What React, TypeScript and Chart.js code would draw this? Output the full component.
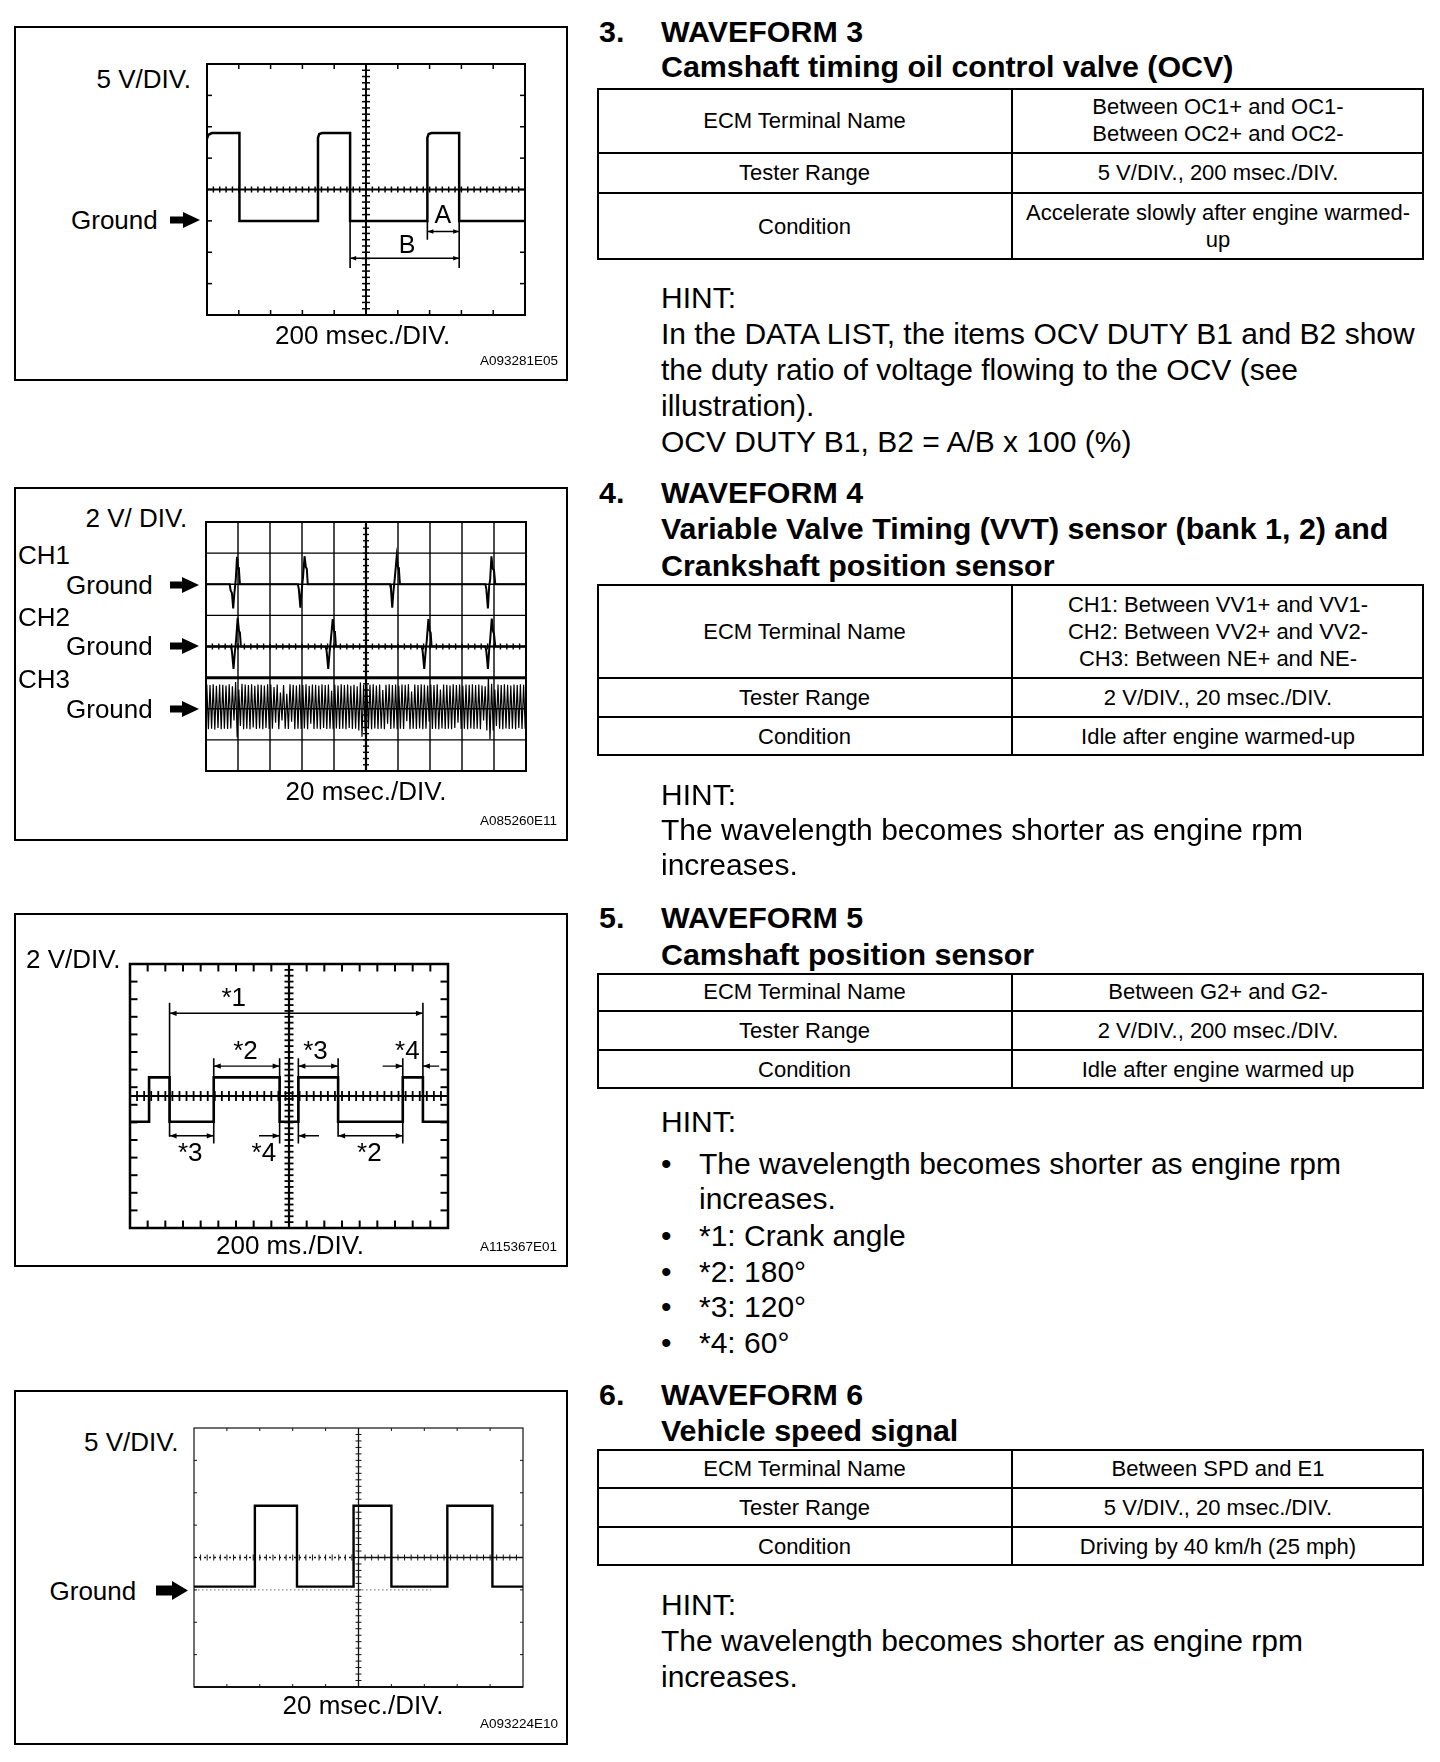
import React, { useEffect, useRef } from "react";
import { Chart, registerables } from "chart.js";

Chart.register(...registerables);

const FONT = '"Liberation Sans", Arial, Helvetica, sans-serif';

/* ---------- WAVEFORM 3 : OCV  (x: 0-10 div, y: 0-8 div) ---------- */
const ocvTime = [0, 0.04, 0.15, 1.02, 1.02, 3.49, 3.49, 3.53, 3.62, 4.5, 4.5, 6.93, 6.93, 6.97, 7.06, 7.93, 7.93, 10];
const ocvVolt = [5.62, 5.74, 5.8, 5.8, 3, 3, 5.65, 5.77, 5.8, 5.8, 3, 3, 5.65, 5.77, 5.8, 5.8, 3, 3];
const ocvExtX = [4.5, 7.93, 6.93];
const ocvExtTop = [3, 3, 3];
const ocvExtBottom = [1.5, 1.5, 2.4];
const ocvDimStart = [4.5, 6.93];
const ocvDimEnd = [7.93, 7.93];
const ocvDimLevel = [1.81, 2.66];
const ocvDimBoth = [true, true];
const ocvLabels = ["B", "A"];
const ocvLabelX = [6.29, 7.42];
const ocvLabelY = [2.25, 3.2];

/* ---------- WAVEFORM 4 : VVT / NE  (x: 0-10 div, y: 0-8 div) ---------- */
const vvt1Time = [0, 0.74, 0.77, 0.81, 0.85, 0.89, 0.93, 0.97, 1.0, 1.03, 1.06, 2.87, 2.9, 2.95, 2.99, 3.03, 3.08, 3.12, 3.15, 3.18, 5.75, 5.78, 5.82, 5.86, 5.9, 5.96, 6.0, 6.03, 6.06, 8.73, 8.76, 8.81, 8.85, 8.88, 8.92, 8.96, 9.0, 9.04, 10];
const vvt1Volt = [6, 6, 5.8, 5.72, 5.22, 5.75, 6.15, 6.88, 6.55, 6.45, 6, 6, 5.85, 5.25, 5.8, 6.2, 6.9, 6.55, 6.5, 6, 6, 5.85, 5.25, 5.8, 6.2, 6.9, 6.55, 6.45, 6, 6, 5.85, 5.22, 5.95, 6.15, 6.9, 6.5, 6.45, 6, 6];
const vvt2Time = [0, 0.78, 0.81, 0.86, 0.9, 0.94, 0.99, 1.03, 1.06, 1.09, 3.74, 3.77, 3.82, 3.86, 3.9, 3.96, 4.0, 4.03, 4.06, 6.74, 6.77, 6.82, 6.86, 6.9, 6.95, 6.99, 7.02, 7.05, 8.73, 8.76, 8.81, 8.85, 8.88, 8.93, 8.97, 9.0, 9.04, 10];
const vvt2Volt = [4, 4, 3.85, 3.28, 3.8, 4.2, 4.92, 4.5, 4.45, 4, 4, 3.85, 3.28, 3.8, 4.2, 4.88, 4.5, 4.45, 4, 4, 3.85, 3.28, 3.8, 4.2, 4.88, 4.5, 4.45, 4, 4, 3.85, 3.28, 3.9, 4.2, 4.9, 4.5, 4.4, 4, 4];
// CH3 crank signal: one max / min pair per cycle, 10 cycles per division
const neHigh = [
  2.78, 2.76, 2.79, 2.74, 2.78, 2.77, 2.75, 2.79, 2.72, 2.86,
  2.62, 2.8, 2.78, 2.76, 2.79, 2.74, 2.78, 2.77, 2.75, 2.79,
  2.78, 2.7, 2.78, 2.52, 2.76, 2.48, 2.79, 2.77, 2.75, 2.78,
  2.76, 2.79, 2.74, 2.78, 2.77, 2.75, 2.79, 2.76, 2.78, 2.58,
  2.77, 2.75, 2.79, 2.76, 2.78, 2.74, 2.77, 2.72, 2.84, 2.76,
  2.78, 2.77, 2.79, 2.75, 2.78, 2.6, 2.77, 2.79, 2.76, 2.78,
  2.74, 2.78, 2.77, 2.79, 2.55, 2.78, 2.76, 2.79, 2.77, 2.75,
  2.78, 2.76, 2.79, 2.62, 2.78, 2.77, 2.75, 2.79, 2.76, 2.78,
  2.74, 2.78, 2.77, 2.79, 2.76, 2.78, 2.75, 2.72, 3.0, 2.8,
  2.62, 2.78, 2.76, 2.79, 2.77, 2.75, 2.78, 2.76, 2.79, 2.77,
];
const neLow = [
  1.34, 1.36, 1.33, 1.38, 1.34, 1.36, 1.35, 1.37, 1.62, 1.08,
  1.45, 1.34, 1.36, 1.34, 1.4, 1.35, 1.37, 1.34, 1.38, 1.35,
  1.36, 1.55, 1.34, 1.62, 1.36, 1.35, 1.58, 1.34, 1.36, 1.35,
  1.37, 1.34, 1.52, 1.35, 1.36, 1.34, 1.38, 1.35, 1.36, 1.34,
  1.37, 1.35, 1.36, 1.34, 1.38, 1.35, 1.36, 1.3, 1.1, 1.28,
  1.36, 1.34, 1.37, 1.35, 1.36, 1.34, 1.52, 1.35, 1.37, 1.34,
  1.36, 1.35, 1.6, 1.34, 1.36, 1.35, 1.37, 1.34, 1.36, 1.58,
  1.35, 1.36, 1.34, 1.37, 1.35, 1.36, 1.34, 1.38, 1.55, 1.35,
  1.36, 1.34, 1.37, 1.35, 1.36, 1.34, 1.62, 1.3, 1.02, 1.3,
  1.45, 1.36, 1.34, 1.37, 1.35, 1.36, 1.34, 1.38, 1.35, 1.36,
];
const neCyclesPerDiv = 10;

/* ---------- WAVEFORM 5 : camshaft position (x: 0-18, y: 0-15) ---------- */
const camTime = [0, 1.08, 1.08, 2.24, 2.24, 4.74, 4.74, 8.47, 8.47, 9.53, 9.53, 11.78, 11.78, 15.44, 15.44, 16.58, 16.58, 18];
const camVolt = [6.04, 6.04, 8.56, 8.56, 6.04, 6.04, 8.56, 8.56, 6.04, 6.04, 8.56, 8.56, 6.04, 6.04, 8.56, 8.56, 6.04, 6.04];
const camExtX = [2.24, 16.58, 4.74, 8.47, 9.53, 11.78, 15.44];
const camExtTop = [12.8, 12.8, 9.65, 9.65, 9.65, 9.65, 9.65];
const camExtBottom = [5.18, 6.04, 4.8, 4.8, 4.8, 5.18, 4.8];
const camDimStart = [2.24, 4.74, 9.53, 14.3, 17.5, 2.24, 7.3, 10.7, 11.78];
const camDimEnd = [16.58, 8.47, 11.78, 15.44, 16.58, 4.74, 8.47, 9.53, 15.44];
const camDimLevel = [12.2, 9.2, 9.2, 9.2, 9.2, 5.24, 5.24, 5.24, 5.24];
const camDimBoth = [true, true, true, false, false, true, false, false, true];
const camLabels = ["*1", "*2", "*3", "*4", "*3", "*4", "*2"];
const camLabelX = [5.87, 6.54, 10.5, 15.7, 3.41, 7.58, 13.55];
const camLabelY = [13.13, 10.1, 10.1, 10.1, 4.33, 4.33, 4.33];

/* ---------- WAVEFORM 6 : vehicle speed (x: 0-10 div, y: 0-8 div) ---------- */
const spdTime = [0, 1.85, 1.85, 3.13, 3.13, 4.85, 4.85, 6.0, 6.0, 7.7, 7.7, 9.07, 9.07, 10];
const spdVolt = [3.1, 3.1, 5.6, 5.6, 3.1, 3.1, 5.6, 5.6, 3.1, 3.1, 5.6, 5.6, 3.1, 3.1];

/* ---------- table texts ---------- */
const rowNames = ["ECM Terminal Name", "Tester Range", "Condition"];
const tbl3Values = [["Between OC1+ and OC1-", "Between OC2+ and OC2-"], ["5 V/DIV., 200 msec./DIV."], ["Accelerate slowly after engine warmed-", "up"]];
const tbl4Values = [["CH1: Between VV1+ and VV1-", "CH2: Between VV2+ and VV2-", "CH3: Between NE+ and NE-"], ["2 V/DIV., 20 msec./DIV."], ["Idle after engine warmed-up"]];
const tbl5Values = [["Between G2+ and G2-"], ["2 V/DIV., 200 msec./DIV."], ["Idle after engine warmed up"]];
const tbl6Values = [["Between SPD and E1"], ["5 V/DIV., 20 msec./DIV."], ["Driving by 40 km/h (25 mph)"]];

/* ---------- helpers ---------- */
type Rect = { x: number; y: number; w: number; h: number };
type Line = { pts: { x: number; y: number | null }[]; width: number; color?: string };
type Dims = { start: number[]; end: number[]; level: number[]; both: boolean[]; len: number; half: number };
type Grat = {
  nx: number; ny: number; border: number; borderBottom?: number; color?: string;
  grid: number; edgeTick: number; edgeTickW: number;
  cx: number; cy: number; centerW: number; dashLeft?: boolean;
  hMinor: number; hMinorLen: number; vMinor: number; vMinorLen: number; minorW: number;
  hLines?: { y: number; w: number; x0?: number; x1?: number; dash?: number[]; color?: string }[];
};

function trace(xs: number[], ys: number[], width: number): Line {
  return { pts: xs.map((x, i) => ({ x, y: ys[i] })), width };
}
function verticals(xs: number[], top: number[], bottom: number[], width: number): Line {
  const pts: { x: number; y: number | null }[] = [];
  xs.forEach((x, i) => { pts.push({ x, y: top[i] }, { x, y: bottom[i] }, { x, y: null }); });
  return { pts, width };
}
function dimLine(d: Dims, width: number): Line {
  const pts: { x: number; y: number | null }[] = [];
  d.start.forEach((s, i) => { pts.push({ x: s, y: d.level[i] }, { x: d.end[i], y: d.level[i] }, { x: d.end[i], y: null }); });
  return { pts, width };
}

const M = 12;

function Scope({ rect, grat, lines, dims }: { rect: Rect; grat: Grat; lines: Line[]; dims?: Dims }) {
  const ref = useRef<HTMLCanvasElement>(null);
  useEffect(() => {
    const canvas = ref.current;
    if (!canvas) return;
    const gratPlugin = {
      id: "graticule",
      beforeDatasetsDraw(chart: any) {
        const ctx = chart.ctx;
        const px = (v: number) => chart.scales.x.getPixelForValue(v);
        const py = (v: number) => chart.scales.y.getPixelForValue(v);
        const g = grat;
        ctx.save();
        ctx.strokeStyle = g.color || "#000";
        ctx.lineCap = "butt";
        const L = (x1: number, y1: number, x2: number, y2: number, w: number, dash?: number[]) => {
          ctx.lineWidth = w;
          ctx.setLineDash(dash || []);
          ctx.beginPath();
          ctx.moveTo(x1, y1);
          ctx.lineTo(x2, y2);
          ctx.stroke();
        };
        const left = px(0), right = px(g.nx), top = py(g.ny), bottom = py(0);
        if (g.grid) {
          for (let i = 1; i < g.nx; i++) L(px(i), top, px(i), bottom, g.grid);
          for (let j = 1; j < g.ny; j++) L(left, py(j), right, py(j), g.grid);
        }
        if (g.edgeTick) {
          for (let i = 1; i < g.nx; i++) {
            L(px(i), top, px(i), top + g.edgeTick, g.edgeTickW);
            L(px(i), bottom, px(i), bottom - g.edgeTick, g.edgeTickW);
          }
          for (let j = 1; j < g.ny; j++) {
            L(left, py(j), left + g.edgeTick, py(j), g.edgeTickW);
            L(right, py(j), right - g.edgeTick, py(j), g.edgeTickW);
          }
        }
        (g.hLines || []).forEach((h) => {
          ctx.strokeStyle = h.color || g.color || "#000";
          L(px(h.x0 ?? 0), py(h.y), px(h.x1 ?? g.nx), py(h.y), h.w, h.dash);
          ctx.strokeStyle = g.color || "#000";
        });
        const cxp = px(g.cx), cyp = py(g.cy);
        if (g.dashLeft) {
          L(left, cyp, cxp, cyp, g.centerW, [2, 3]);
          L(cxp, cyp, right, cyp, g.centerW);
        } else {
          L(left, cyp, right, cyp, g.centerW);
        }
        L(cxp, top, cxp, bottom, g.centerW);
        const nh = Math.round(g.nx / g.hMinor);
        for (let k = 1; k < nh; k++) {
          const x = px((k * g.nx) / nh);
          L(x, cyp - g.hMinorLen, x, cyp + g.hMinorLen, g.minorW);
        }
        const nv = Math.round(g.ny / g.vMinor);
        for (let k = 1; k < nv; k++) {
          const y = py((k * g.ny) / nv);
          L(cxp - g.vMinorLen, y, cxp + g.vMinorLen, y, g.minorW);
        }
        ctx.setLineDash([]);
        ctx.lineWidth = g.border;
        ctx.strokeRect(left, top, right - left, bottom - top);
        if (g.borderBottom) L(left, bottom, right, bottom, g.borderBottom);
        ctx.restore();
      },
    };
    const headPlugin = {
      id: "dimHeads",
      afterDatasetsDraw(chart: any) {
        if (!dims) return;
        const ctx = chart.ctx;
        const px = (v: number) => chart.scales.x.getPixelForValue(v);
        const py = (v: number) => chart.scales.y.getPixelForValue(v);
        ctx.save();
        ctx.fillStyle = "#000";
        dims.start.forEach((s, i) => {
          const e = dims.end[i];
          const y = py(dims.level[i]);
          const heads: [number, number][] = dims.both[i]
            ? [[s, Math.sign(s - e)], [e, Math.sign(e - s)]]
            : [[e, Math.sign(e - s)]];
          heads.forEach(([x, d]) => {
            const X = px(x);
            ctx.beginPath();
            ctx.moveTo(X, y);
            ctx.lineTo(X - d * dims.len, y - dims.half);
            ctx.lineTo(X - d * dims.len, y + dims.half);
            ctx.closePath();
            ctx.fill();
          });
        });
        ctx.restore();
      },
    };
    const chart = new Chart(canvas, {
      type: "line",
      data: {
        datasets: lines.map((l) => ({
          data: l.pts,
          borderColor: l.color || "#000",
          borderWidth: l.width,
          pointRadius: 0,
          pointHoverRadius: 0,
          fill: false,
          tension: 0,
          spanGaps: false,
          clip: false,
          borderJoinStyle: "miter",
          borderCapStyle: "butt",
        })) as any,
      },
      options: {
        animation: false,
        responsive: false,
        maintainAspectRatio: false,
        devicePixelRatio: 1,
        events: [],
        layout: { padding: M },
        scales: {
          x: { type: "linear", min: 0, max: grat.nx, display: false },
          y: { type: "linear", min: 0, max: grat.ny, display: false },
        },
        plugins: { legend: { display: false }, tooltip: { enabled: false }, title: { display: false } },
      } as any,
      plugins: [gratPlugin, headPlugin] as any,
    });
    return () => chart.destroy();
  }, []);
  const W = rect.w + 2 * M, H = rect.h + 2 * M;
  return (
    <canvas
      ref={ref}
      width={W}
      height={H}
      style={{ position: "absolute", left: rect.x - M, top: rect.y - M, width: W, height: H }}
    />
  );
}

function Txt({ x, cy, size, lh, bold, center, children }: any) {
  return (
    <div
      style={{
        position: "absolute",
        left: x,
        top: cy - lh / 2,
        fontSize: size,
        lineHeight: lh + "px",
        fontWeight: bold ? 700 : 400,
        whiteSpace: "nowrap",
        transform: center ? "translateX(-50%)" : undefined,
      }}
    >
      {children}
    </div>
  );
}

function Arrow({ x, cy, w, hs, hh, sh }: { x: number; cy: number; w: number; hs: number; hh: number; sh: number }) {
  const a = (hh - sh) / 2, b = (hh + sh) / 2;
  return (
    <svg style={{ position: "absolute", left: x, top: cy - hh / 2 }} width={w} height={hh}>
      <polygon points={`0,${a} ${hs},${a} ${hs},0 ${w},${hh / 2} ${hs},${hh} ${hs},${b} 0,${b}`} fill="#000" />
    </svg>
  );
}

function Box({ x, y, w, h }: Rect) {
  return <div style={{ position: "absolute", left: x, top: y, width: w, height: h, border: "2px solid #000", boxSizing: "border-box" }} />;
}

function DataLabels({ rect, nx, ny, texts, xs, ys, size }: any) {
  return (
    <>
      {texts.map((t: string, i: number) => (
        <Txt key={i} x={rect.x + (xs[i] / nx) * rect.w} cy={rect.y + rect.h - (ys[i] / ny) * rect.h} size={size} lh={size} center>
          {t}
        </Txt>
      ))}
    </>
  );
}

function Cell({ x, w, y, h, lines }: { x: number; w: number; y: number; h: number; lines: string[] }) {
  return (
    <div
      style={{
        position: "absolute", left: x, top: y, width: w, height: h,
        display: "flex", flexDirection: "column", justifyContent: "center", alignItems: "center",
        fontSize: 22, lineHeight: "27px", textAlign: "center",
      }}
    >
      {lines.map((t, i) => (
        <div key={i} style={{ whiteSpace: "nowrap" }}>{t}</div>
      ))}
    </div>
  );
}

function Table({ b, values }: { b: number[]; values: string[][] }) {
  const X0 = 597, X1 = 1012, X2 = 1424;
  return (
    <>
      <div style={{ position: "absolute", left: X0, top: b[0], width: X2 - X0, height: b[3] - b[0], border: "2px solid #000", boxSizing: "border-box" }} />
      <div style={{ position: "absolute", left: X1 - 1, top: b[0], width: 2, height: b[3] - b[0], background: "#000" }} />
      {[1, 2].map((k) => (
        <div key={k} style={{ position: "absolute", left: X0, top: b[k] - 1, width: X2 - X0, height: 2, background: "#000" }} />
      ))}
      {[0, 1, 2].map((r) => (
        <React.Fragment key={r}>
          <Cell x={X0} w={X1 - X0} y={b[r]} h={b[r + 1] - b[r]} lines={[rowNames[r]]} />
          <Cell x={X1} w={X2 - X1} y={b[r]} h={b[r + 1] - b[r]} lines={values[r]} />
        </React.Fragment>
      ))}
    </>
  );
}

/* ---------- plot rectangles (page px) ---------- */
const P1: Rect = { x: 207, y: 64, w: 318, h: 251 };
const P2: Rect = { x: 206, y: 522, w: 320, h: 249 };
const P3: Rect = { x: 130, y: 964, w: 318, h: 264 };
const P4: Rect = { x: 194, y: 1428, w: 329, h: 259 };

export default function App() {
  const neTrace: Line = {
    pts: neHigh.flatMap((h, i) => [
      { x: (i + 0.25) / neCyclesPerDiv, y: h },
      { x: (i + 0.75) / neCyclesPerDiv, y: neLow[i] },
    ]),
    width: 1.2,
  };
  const ocvDims: Dims = { start: ocvDimStart, end: ocvDimEnd, level: ocvDimLevel, both: ocvDimBoth, len: 6, half: 2.2 };
  const camDims: Dims = { start: camDimStart, end: camDimEnd, level: camDimLevel, both: camDimBoth, len: 7, half: 2.6 };

  const S = 26; // panel label size
  const B = 30; // body size
  const BB = 30.4; // bold heading size
  const H = 36; // body line height
  const C = 13.5; // figure code size

  return (
    <div style={{ position: "absolute", left: 0, top: 0, width: 1440, height: 1762, background: "#fff", color: "#000", fontFamily: FONT, overflow: "hidden" }}>
      {/* ---------------- Panel 1 ---------------- */}
      <Box x={13.5} y={26} w={554} h={355} />
      <Scope
        rect={P1}
        grat={{ nx: 10, ny: 8, border: 2, grid: 0, edgeTick: 5, edgeTickW: 1.5, cx: 5, cy: 4, centerW: 2, hMinor: 0.2, hMinorLen: 3, vMinor: 0.2, vMinorLen: 4, minorW: 1.5 }}
        lines={[trace(ocvTime, ocvVolt, 2.5), verticals(ocvExtX, ocvExtTop, ocvExtBottom, 1.6), dimLine(ocvDims, 1.4)]}
        dims={ocvDims}
      />
      <DataLabels rect={P1} nx={10} ny={8} texts={ocvLabels} xs={ocvLabelX} ys={ocvLabelY} size={25} />
      <Txt x={96.5} cy={79} size={S} lh={S}>5 V/DIV.</Txt>
      <Txt x={71} cy={220} size={S} lh={S}>Ground</Txt>
      <Arrow x={170} cy={220} w={30} hs={13} hh={16} sh={7} />
      <Txt x={275} cy={335} size={S} lh={S}>200 msec./DIV.</Txt>
      <Txt x={480} cy={361} size={C} lh={16}>A093281E05</Txt>

      {/* ---------------- Panel 2 ---------------- */}
      <Box x={13.5} y={487} w={554} h={354} />
      <Scope
        rect={P2}
        grat={{ nx: 10, ny: 8, border: 2, grid: 1.4, edgeTick: 0, edgeTickW: 0, cx: 5, cy: 4, centerW: 2.2, hMinor: 0.2, hMinorLen: 3, vMinor: 0.2, vMinorLen: 3, minorW: 1.4, hLines: [{ y: 3, w: 3 }] }}
        lines={[trace(vvt1Time, vvt1Volt, 2), trace(vvt2Time, vvt2Volt, 2), neTrace]}
      />
      <Txt x={85.5} cy={517.5} size={S} lh={S}>2 V/ DIV.</Txt>
      <Txt x={18} cy={555} size={S} lh={S}>CH1</Txt>
      <Txt x={66} cy={584.5} size={S} lh={S}>Ground</Txt>
      <Arrow x={170} cy={584.5} w={29} hs={12} hh={16} sh={7} />
      <Txt x={18} cy={616.5} size={S} lh={S}>CH2</Txt>
      <Txt x={66} cy={646} size={S} lh={S}>Ground</Txt>
      <Arrow x={170} cy={646} w={29} hs={12} hh={16} sh={7} />
      <Txt x={18} cy={679} size={S} lh={S}>CH3</Txt>
      <Txt x={66} cy={708.5} size={S} lh={S}>Ground</Txt>
      <Arrow x={170} cy={708.5} w={29} hs={12} hh={16} sh={7} />
      <Txt x={285.5} cy={791} size={S} lh={S}>20 msec./DIV.</Txt>
      <Txt x={480} cy={821} size={C} lh={16}>A085260E11</Txt>

      {/* ---------------- Panel 3 ---------------- */}
      <Box x={13.5} y={912.5} w={554} h={354} />
      <Scope
        rect={P3}
        grat={{ nx: 18, ny: 15, border: 2.5, grid: 0, edgeTick: 7.5, edgeTickW: 2, cx: 9, cy: 7.5, centerW: 2.2, hMinor: 0.4, hMinorLen: 5, vMinor: 1 / 3, vMinorLen: 4.5, minorW: 1.8 }}
        lines={[trace(camTime, camVolt, 2.6), verticals(camExtX, camExtTop, camExtBottom, 1.6), dimLine(camDims, 1.4)]}
        dims={camDims}
      />
      <DataLabels rect={P3} nx={18} ny={15} texts={camLabels} xs={camLabelX} ys={camLabelY} size={S} />
      <Txt x={26} cy={958.5} size={S} lh={S}>2 V/DIV.</Txt>
      <Txt x={216} cy={1245} size={S} lh={S}>200 ms./DIV.</Txt>
      <Txt x={480} cy={1247} size={C} lh={16}>A115367E01</Txt>

      {/* ---------------- Panel 4 ---------------- */}
      <Box x={13.5} y={1389.5} w={554} h={355} />
      <Scope
        rect={P4}
        grat={{ nx: 10, ny: 8, border: 1.2, borderBottom: 2, color: "#111", grid: 0, edgeTick: 3, edgeTickW: 1, cx: 5, cy: 4, centerW: 1.3, dashLeft: true, hMinor: 0.2, hMinorLen: 3, vMinor: 0.2, vMinorLen: 3, minorW: 1, hLines: [{ y: 3.0, w: 1, x0: 0, x1: 7.2, dash: [1.5, 2.5], color: "#666" }] }}
        lines={[trace(spdTime, spdVolt, 2.4)]}
      />
      <Txt x={84} cy={1442} size={S} lh={S}>5 V/DIV.</Txt>
      <Txt x={49.5} cy={1590.5} size={S} lh={S}>Ground</Txt>
      <Arrow x={156} cy={1590} w={32} hs={16} hh={19} sh={10} />
      <Txt x={282.5} cy={1705} size={S} lh={S}>20 msec./DIV.</Txt>
      <Txt x={480} cy={1723.5} size={C} lh={16}>A093224E10</Txt>

      {/* ---------------- Section 3 ---------------- */}
      <Txt x={599} cy={31} size={BB} lh={H} bold>3.</Txt>
      <Txt x={661} cy={31} size={BB} lh={H} bold>WAVEFORM 3</Txt>
      <Txt x={661} cy={66} size={BB} lh={H} bold>Camshaft timing oil control valve (OCV)</Txt>
      <Table b={[87.5, 153, 192.5, 260]} values={tbl3Values} />
      <Txt x={661} cy={298} size={B} lh={H}>HINT:</Txt>
      <Txt x={661} cy={334} size={B} lh={H}>In the DATA LIST, the items OCV DUTY B1 and B2 show</Txt>
      <Txt x={661} cy={370} size={B} lh={H}>the duty ratio of voltage flowing to the OCV (see</Txt>
      <Txt x={661} cy={406} size={B} lh={H}>illustration).</Txt>
      <Txt x={661} cy={442} size={B} lh={H}>OCV DUTY B1, B2 = A/B x 100 (%)</Txt>

      {/* ---------------- Section 4 ---------------- */}
      <Txt x={599} cy={492} size={BB} lh={H} bold>4.</Txt>
      <Txt x={661} cy={492} size={BB} lh={H} bold>WAVEFORM 4</Txt>
      <Txt x={661} cy={528} size={BB} lh={H} bold>Variable Valve Timing (VVT) sensor (bank 1, 2) and</Txt>
      <Txt x={661} cy={564.5} size={BB} lh={H} bold>Crankshaft position sensor</Txt>
      <Table b={[584, 678, 716.5, 755.5]} values={tbl4Values} />
      <Txt x={661} cy={795} size={B} lh={H}>HINT:</Txt>
      <Txt x={661} cy={830} size={B} lh={H}>The wavelength becomes shorter as engine rpm</Txt>
      <Txt x={661} cy={865} size={B} lh={H}>increases.</Txt>

      {/* ---------------- Section 5 ---------------- */}
      <Txt x={599} cy={917} size={BB} lh={H} bold>5.</Txt>
      <Txt x={661} cy={917} size={BB} lh={H} bold>WAVEFORM 5</Txt>
      <Txt x={661} cy={953.5} size={BB} lh={H} bold>Camshaft position sensor</Txt>
      <Table b={[972.5, 1010.7, 1049.5, 1088.5]} values={tbl5Values} />
      <Txt x={661} cy={1122} size={B} lh={H}>HINT:</Txt>
      <Txt x={661} cy={1163.5} size={B} lh={H}>•</Txt>
      <Txt x={699} cy={1163.5} size={B} lh={H}>The wavelength becomes shorter as engine rpm</Txt>
      <Txt x={699} cy={1199} size={B} lh={H}>increases.</Txt>
      <Txt x={661} cy={1235.5} size={B} lh={H}>•</Txt>
      <Txt x={699} cy={1235.5} size={B} lh={H}>*1: Crank angle</Txt>
      <Txt x={661} cy={1271.5} size={B} lh={H}>•</Txt>
      <Txt x={699} cy={1271.5} size={B} lh={H}>*2: 180°</Txt>
      <Txt x={661} cy={1307} size={B} lh={H}>•</Txt>
      <Txt x={699} cy={1307} size={B} lh={H}>*3: 120°</Txt>
      <Txt x={661} cy={1343} size={B} lh={H}>•</Txt>
      <Txt x={699} cy={1343} size={B} lh={H}>*4: 60°</Txt>

      {/* ---------------- Section 6 ---------------- */}
      <Txt x={599} cy={1393.5} size={BB} lh={H} bold>6.</Txt>
      <Txt x={661} cy={1393.5} size={BB} lh={H} bold>WAVEFORM 6</Txt>
      <Txt x={661} cy={1430} size={BB} lh={H} bold>Vehicle speed signal</Txt>
      <Table b={[1449.3, 1487.7, 1526.7, 1566]} values={tbl6Values} />
      <Txt x={661} cy={1605} size={B} lh={H}>HINT:</Txt>
      <Txt x={661} cy={1640.5} size={B} lh={H}>The wavelength becomes shorter as engine rpm</Txt>
      <Txt x={661} cy={1676.5} size={B} lh={H}>increases.</Txt>
    </div>
  );
}
